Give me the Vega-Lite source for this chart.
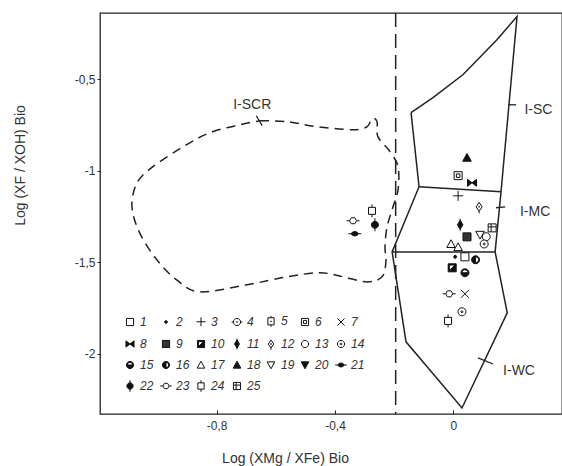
{
  "$schema": "https://vega.github.io/schema/vega-lite/v6.json",
  "width": 462,
  "height": 401,
  "autosize": {"type": "none"},
  "padding": {"left": 100, "top": 13, "right": 0, "bottom": 52},
  "background": "white",
  "config": {
    "font": "Liberation Sans",
    "view": {"stroke": "#222", "strokeWidth": 1.3},
    "axis": {
      "grid": false, "domain": false, "tickColor": "#222", "tickSize": 4,
      "labelFontSize": 12, "labelColor": "#333", "titleFontSize": 14,
      "titleFontWeight": "normal", "titleColor": "#333", "labelFont": "Liberation Sans", "titleFont": "Liberation Sans"
    }
  },
  "datasets": {
    "solid": [
      {"g": "poly", "o": 0, "x": -0.143, "y": -0.683},
      {"g": "poly", "o": 1, "x": -0.069, "y": -0.601},
      {"g": "poly", "o": 2, "x": 0.033, "y": -0.475},
      {"g": "poly", "o": 3, "x": 0.148, "y": -0.284},
      {"g": "poly", "o": 4, "x": 0.215, "y": -0.158},
      {"g": "poly", "o": 5, "x": 0.161, "y": -1.115},
      {"g": "poly", "o": 6, "x": 0.141, "y": -1.443},
      {"g": "poly", "o": 7, "x": 0.182, "y": -1.776},
      {"g": "poly", "o": 8, "x": 0.029, "y": -2.295},
      {"g": "poly", "o": 9, "x": -0.160, "y": -1.934},
      {"g": "poly", "o": 10, "x": -0.207, "y": -1.443},
      {"g": "poly", "o": 11, "x": -0.116, "y": -1.087},
      {"g": "poly", "o": 12, "x": -0.143, "y": -0.683},
      {"g": "up", "o": 0, "x": -0.116, "y": -1.087},
      {"g": "up", "o": 1, "x": 0.161, "y": -1.115},
      {"g": "low", "o": 0, "x": -0.207, "y": -1.443},
      {"g": "low", "o": 1, "x": 0.141, "y": -1.443}
    ],
    "blob": [
      {"o": 0, "x": -0.653, "y": -0.727},
      {"o": 1, "x": -0.562, "y": -0.732},
      {"o": 2, "x": -0.461, "y": -0.760},
      {"o": 3, "x": -0.339, "y": -0.776},
      {"o": 4, "x": -0.292, "y": -0.760},
      {"o": 5, "x": -0.275, "y": -0.716},
      {"o": 6, "x": -0.258, "y": -0.732},
      {"o": 7, "x": -0.255, "y": -0.814},
      {"o": 8, "x": -0.214, "y": -0.896},
      {"o": 9, "x": -0.187, "y": -0.978},
      {"o": 10, "x": -0.187, "y": -1.104},
      {"o": 11, "x": -0.204, "y": -1.197},
      {"o": 12, "x": -0.224, "y": -1.306},
      {"o": 13, "x": -0.231, "y": -1.415},
      {"o": 14, "x": -0.228, "y": -1.497},
      {"o": 15, "x": -0.241, "y": -1.579},
      {"o": 16, "x": -0.292, "y": -1.607},
      {"o": 17, "x": -0.373, "y": -1.579},
      {"o": 18, "x": -0.451, "y": -1.557},
      {"o": 19, "x": -0.562, "y": -1.579},
      {"o": 20, "x": -0.698, "y": -1.623},
      {"o": 21, "x": -0.857, "y": -1.661},
      {"o": 22, "x": -0.935, "y": -1.596},
      {"o": 23, "x": -1.002, "y": -1.486},
      {"o": 24, "x": -1.060, "y": -1.339},
      {"o": 25, "x": -1.086, "y": -1.197},
      {"o": 26, "x": -1.069, "y": -1.066},
      {"o": 27, "x": -1.015, "y": -0.978},
      {"o": 28, "x": -0.913, "y": -0.869},
      {"o": 29, "x": -0.822, "y": -0.792},
      {"o": 30, "x": -0.721, "y": -0.749},
      {"o": 31, "x": -0.653, "y": -0.727}
    ],
    "vline": [{"x": -0.195}],
    "ticks": [
      {"x": 0.185, "y": -0.640, "x2": 0.212, "y2": -0.640},
      {"x": 0.144, "y": -1.202, "x2": 0.175, "y2": -1.197},
      {"x": 0.083, "y": -2.022, "x2": 0.134, "y2": -2.055},
      {"x": -0.666, "y": -0.700, "x2": -0.646, "y2": -0.754}
    ],
    "labels": [
      {"t": "I-SC", "x": 0.240, "y": -0.667},
      {"t": "I-MC", "x": 0.225, "y": -1.225},
      {"t": "I-WC", "x": 0.168, "y": -2.093},
      {"t": "I-SCR", "x": -0.744, "y": -0.639}
    ],
    "pts": [
      {"s": "23", "x": -0.339, "y": -1.273},
      {"s": "21", "x": -0.333, "y": -1.344},
      {"s": "24", "x": -0.275, "y": -1.219},
      {"s": "22", "x": -0.265, "y": -1.295},
      {"s": "18", "x": 0.046, "y": -0.929},
      {"s": "6", "x": 0.016, "y": -1.027},
      {"s": "8", "x": 0.063, "y": -1.066},
      {"s": "3", "x": 0.016, "y": -1.137},
      {"s": "12", "x": 0.087, "y": -1.197},
      {"s": "11", "x": 0.023, "y": -1.295},
      {"s": "9", "x": 0.046, "y": -1.361},
      {"s": "25", "x": 0.131, "y": -1.312},
      {"s": "19", "x": 0.090, "y": -1.350},
      {"s": "13", "x": 0.111, "y": -1.360},
      {"s": "14", "x": 0.104, "y": -1.400},
      {"s": "17", "x": -0.008, "y": -1.400},
      {"s": "17", "x": 0.016, "y": -1.417},
      {"s": "2", "x": 0.006, "y": -1.470},
      {"s": "1", "x": 0.039, "y": -1.470},
      {"s": "16", "x": 0.075, "y": -1.486},
      {"s": "10", "x": -0.004, "y": -1.530},
      {"s": "15", "x": 0.039, "y": -1.557},
      {"s": "23", "x": -0.014, "y": -1.672},
      {"s": "7", "x": 0.039, "y": -1.672},
      {"s": "14", "x": 0.029, "y": -1.770},
      {"s": "24", "x": -0.018, "y": -1.820}
    ]
  },
  "layer": [
    {
      "data": {"name": "solid"},
      "mark": {"type": "line", "color": "#222", "strokeWidth": 1.5},
      "encoding": {
        "x": {"field": "x", "type": "quantitative",
          "scale": {"domain": [-1.194, 0.367], "nice": false, "zero": false},
          "axis": {"values": [-0.8, -0.4, 0], "title": "Log (XMg / XFe) Bio", "labelExpr": "replace(toString(datum.value), '.', ',')",
            "tickSize": -4, "labelPadding": 10, "titleX": 185, "titleY": 44, "titleBaseline": "middle"}},
        "y": {"field": "y", "type": "quantitative",
          "scale": {"domain": [-2.328, -0.139], "nice": false, "zero": false},
          "axis": {"values": [-2, -1.5, -1, -0.5], "title": "Log (XF / XOH) Bio", "labelExpr": "replace(toString(datum.value), '.', ',')",
            "tickSize": 3, "labelPadding": 2, "titleX": -80, "titleY": 152, "titleBaseline": "middle"}},
        "detail": {"field": "g"},
        "order": {"field": "o"}
      }
    },
    {
      "data": {"name": "blob"},
      "mark": {"type": "line", "color": "#222", "strokeWidth": 1.5, "strokeDash": [9, 6], "interpolate": "cardinal"},
      "encoding": {
        "x": {"field": "x", "type": "quantitative"},
        "y": {"field": "y", "type": "quantitative"},
        "order": {"field": "o"}
      }
    },
    {
      "data": {"name": "vline"},
      "mark": {"type": "rule", "color": "#222", "strokeWidth": 1.5, "strokeDash": [14, 7]},
      "encoding": {"x": {"field": "x", "type": "quantitative"}}
    },
    {
      "data": {"name": "ticks"},
      "mark": {"type": "rule", "color": "#222", "strokeWidth": 1.3},
      "encoding": {
        "x": {"field": "x", "type": "quantitative"},
        "y": {"field": "y", "type": "quantitative"},
        "x2": {"field": "x2"},
        "y2": {"field": "y2"}
      }
    },
    {
      "data": {"name": "labels"},
      "mark": {"type": "text", "align": "left", "baseline": "middle", "fontSize": 14, "color": "#333"},
      "encoding": {
        "x": {"field": "x", "type": "quantitative"},
        "y": {"field": "y", "type": "quantitative"},
        "text": {"field": "t"}
      }
    },
    {
      "data": {"name": "pts"},
      "mark": {"type": "point", "filled": false, "stroke": "#111", "strokeWidth": 1, "opacity": 1, "size": 100},
      "encoding": {
        "x": {"field": "x", "type": "quantitative"},
        "y": {"field": "y", "type": "quantitative"},
        "shape": {"field": "s", "type": "nominal",
          "scale": {
            "domain": ["1","2","3","4","5","6","7","8","9","10","11","12","13","14","15","16","17","18","19","20","21","22","23","24","25"],
            "range": [
              "M-0.8,-0.8H0.8V0.8H-0.8Z",
              "M-0.3,0A0.3,0.3 0 1,1 0.3,0A0.3,0.3 0 1,1 -0.3,0Z",
              "M-1,0H1M0,-1V1",
              "M-1.2,0H-0.8M0.8,0H1.2M-0.8,0A0.8,0.8 0 1,1 0.8,0A0.8,0.8 0 1,1 -0.8,0ZM-0.1,0A0.1,0.1 0 1,1 0.1,0A0.1,0.1 0 1,1 -0.1,0Z",
              "M0,-1.2V-0.8M0,0.8V1.2M-0.7,-0.8H0.7V0.8H-0.7ZM-0.1,0A0.1,0.1 0 1,1 0.1,0A0.1,0.1 0 1,1 -0.1,0Z",
              "M-0.8,-0.8H0.8V0.8H-0.8ZM-0.35,-0.35H0.35V0.35H-0.35Z",
              "M-0.8,-0.8L0.8,0.8M-0.8,0.8L0.8,-0.8",
              "M-0.9,-0.7L0.9,0.7V-0.7L-0.9,0.7Z",
              "M-0.8,-0.8H0.8V0.8H-0.8Z",
              "M-0.8,-0.8H0.8V0.8H-0.8ZM-0.55,-0.55V0.55H0.55V-0.55ZM0.55,-0.55V0.55H-0.55Z",
              "M0,-1.2V1.2M0,-0.9L0.55,0L0,0.9L-0.55,0Z",
              "M0,-0.9L0.6,0L0,0.9L-0.6,0ZM0,0.9V1.3M-0.1,0A0.1,0.1 0 1,1 0.1,0A0.1,0.1 0 1,1 -0.1,0Z",
              "M-0.8,0A0.8,0.8 0 1,1 0.8,0A0.8,0.8 0 1,1 -0.8,0Z",
              "M-0.8,0A0.8,0.8 0 1,1 0.8,0A0.8,0.8 0 1,1 -0.8,0ZM-0.2,0A0.2,0.2 0 1,1 0.2,0A0.2,0.2 0 1,1 -0.2,0Z",
              "M-0.8,0A0.8,0.8 0 1,1 0.8,0A0.8,0.8 0 1,1 -0.8,0ZM-0.6,0A0.6,0.6 0 1,0 0.6,0A0.6,0.6 0 1,0 -0.6,0ZM0.6,0A0.6,0.6 0 0,1 -0.6,0Z",
              "M-0.8,0A0.8,0.8 0 1,1 0.8,0A0.8,0.8 0 1,1 -0.8,0ZM-0.6,0A0.6,0.6 0 1,0 0.6,0A0.6,0.6 0 1,0 -0.6,0ZM0,-0.6A0.6,0.6 0 0,0 0,0.6Z",
              "M0,-0.85L0.85,0.7H-0.85Z",
              "M0,-0.85L0.85,0.7H-0.85Z",
              "M0,0.85L0.85,-0.7H-0.85Z",
              "M0,0.85L0.85,-0.7H-0.85Z",
              "M-1.3,0H-0.8M0.8,0H1.3M-0.8,0Q0,-0.9 0.8,0Q0,0.9 -0.8,0Z",
              "M0,-1.3V-0.7M0,0.7V1.3M-0.7,0A0.7,0.7 0 1,1 0.7,0A0.7,0.7 0 1,1 -0.7,0Z",
              "M-1.3,0H-0.7M0.7,0H1.3M-0.7,0L-0.35,-0.6H0.35L0.7,0L0.35,0.6H-0.35Z",
              "M0,-1.3V-0.7M0,0.7V1.3M-0.7,-0.7H0.7V0.7H-0.7Z",
              "M-0.8,-0.8H0.8V0.8H-0.8ZM-0.8,-0.2H0.8M-0.2,-0.8V0.8"
            ]
          },
          "legend": {"title": null, "orient": "none", "legendX": 24, "legendY": 302, "columns": 7, "direction": "horizontal",
            "symbolSize": 80, "symbolStrokeColor": "#111", "symbolStrokeWidth": 1, "labelFontSize": 12, "labelFontStyle": "italic",
            "labelColor": "#333", "labelOffset": 4, "columnPadding": 4, "rowPadding": 7, "symbolOpacity": 1,
            "encode": {"symbols": {"update": {"stroke": {"value": "#111"}, "strokeWidth": {"value": 1}, "opacity": {"value": 1}}}}}
        },
        "fill": {"field": "s", "type": "nominal",
          "scale": {
            "domain": ["1","2","3","4","5","6","7","8","9","10","11","12","13","14","15","16","17","18","19","20","21","22","23","24","25"],
            "range": ["white","#111","white","white","white","white","white","#111","#333","#111","#111","white","white","white","#111","#111","white","#111","white","#111","#111","#111","white","white","white"]
          },
          "legend": {"title": null, "orient": "none", "legendX": 24, "legendY": 302, "columns": 7, "direction": "horizontal",
            "symbolSize": 80, "symbolStrokeColor": "#111", "symbolStrokeWidth": 1, "labelFontSize": 12, "labelFontStyle": "italic",
            "labelColor": "#333", "labelOffset": 4, "columnPadding": 4, "rowPadding": 7, "symbolOpacity": 1,
            "encode": {"symbols": {"update": {"stroke": {"value": "#111"}, "strokeWidth": {"value": 1}, "opacity": {"value": 1}}}}}
        }
      }
    }
  ]
}
